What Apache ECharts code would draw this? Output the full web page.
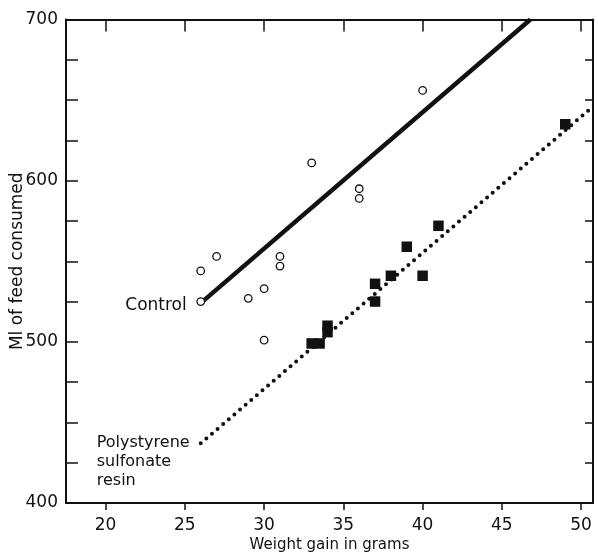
<!DOCTYPE html>
<html>
<head>
<meta charset="utf-8">
<script src="https://cdn.jsdelivr.net/npm/echarts@6/dist/echarts.min.js"></script>
<style>
html,body{margin:0;padding:0;background:#fff;}
#chart{width:598px;height:553px;}
</style>
</head>
<body>
<div id="chart"></div>
<script>
// Control group (open circles): [weight gain g, ml feed]
var controlPoints = [
  [26, 544], [27, 553], [26, 525], [29, 527], [30, 533], [30, 501],
  [31, 553], [31, 547], [33, 611], [36, 595], [36, 589], [40, 656]
];
// Polystyrene sulfonate resin group (filled squares)
var resinPoints = [
  [33, 499], [33.5, 499], [34, 510], [34, 506], [37, 536], [37, 525],
  [38, 541], [40, 541], [39, 559], [41, 572], [49, 635]
];
// Fitted lines
var controlLine = [[26, 524], [46.8, 700]];
var resinLine = [[26, 437], [50.75, 646]];

var xTicks = [20, 25, 30, 35, 40, 45, 50];
var yLabelValues = [400, 500, 600, 700];
var xTitle = 'Weight gain in grams';
var yTitle = 'Ml of feed consumed';
var controlLabel = 'Control';
var resinLabel = 'Polystyrene\nsulfonate\nresin';

var FONT = 'DejaVu Sans';
var INK = '#111';

var chart = echarts.init(document.getElementById('chart'), null, {renderer: 'canvas'});

var axisLine = {show: true, onZero: false, lineStyle: {color: INK, width: 2}};

var option = {
  backgroundColor: '#fff',
  animation: false,
  grid: {left: 66, top: 19.5, width: 527, height: 483.5, containLabel: false, outerBoundsMode: 'none'},
  xAxis: [
    {
      type: 'value', min: 17.5, max: 50.75, position: 'bottom',
      axisLine: axisLine,
      axisTick: {show: true, inside: false, length: 7, customValues: xTicks, lineStyle: {color: INK, width: 1.5}},
      axisLabel: {show: true, customValues: xTicks, fontFamily: FONT, fontSize: 17, color: INK, margin: 14},
      splitLine: {show: false},
      name: xTitle, nameLocation: 'middle', nameGap: 35, nameMoveOverlap: false,
      nameTextStyle: {fontFamily: FONT, fontSize: 15, color: INK}
    },
    {
      type: 'value', min: 17.5, max: 50.75, position: 'top',
      axisLine: axisLine,
      axisTick: {show: true, inside: true, length: 12, customValues: xTicks, lineStyle: {color: INK, width: 1.5}},
      axisLabel: {show: false},
      splitLine: {show: false}
    }
  ],
  yAxis: [
    {
      type: 'value', min: 400, max: 700, interval: 25, position: 'left',
      axisLine: axisLine,
      axisTick: {show: true, inside: true, length: 12, lineStyle: {color: INK, width: 1.5}},
      axisLabel: {
        show: true, fontFamily: FONT, fontSize: 17, color: INK, margin: 8,
        formatter: function (v) { return yLabelValues.indexOf(v) >= 0 ? String(v) : ''; }
      },
      splitLine: {show: false},
      name: yTitle, nameLocation: 'middle', nameGap: 40, nameRotate: 90, nameMoveOverlap: false,
      nameTextStyle: {fontFamily: FONT, fontSize: 17, color: INK}
    },
    {
      type: 'value', min: 400, max: 700, interval: 25, position: 'right',
      axisLine: axisLine,
      axisTick: {show: true, inside: true, length: 8, lineStyle: {color: INK, width: 1.5}},
      axisLabel: {show: false},
      splitLine: {show: false}
    }
  ],
  series: [
    {
      name: 'controlLine', type: 'line', data: controlLine, showSymbol: false, symbol: 'none',
      lineStyle: {color: INK, width: 4.5}, z: 2, clip: true
    },
    {
      name: 'resinLine', type: 'line', data: resinLine, showSymbol: false, symbol: 'none',
      lineStyle: {color: INK, width: 4, type: [0, 7.4], cap: 'round'}, z: 2, clip: true
    },
    {
      name: 'Control', type: 'scatter', data: controlPoints, symbol: 'circle', symbolSize: 7.5,
      itemStyle: {color: '#fff', borderColor: INK, borderWidth: 1.3, opacity: 1}, z: 3
    },
    {
      name: 'Resin', type: 'scatter', data: resinPoints, symbol: 'rect', symbolSize: 10.5,
      itemStyle: {color: INK, opacity: 1}, z: 3
    }
  ]
};
chart.setOption(option);

var pc = chart.convertToPixel({gridIndex: 0}, controlLine[0]);
var pr = chart.convertToPixel({gridIndex: 0}, resinLine[0]);
chart.setOption({
  graphic: [
    {
      type: 'text', x: pc[0] - 14, y: pc[1] + 2,
      style: {text: controlLabel, fontFamily: FONT, fontSize: 17, fill: INK, align: 'right', verticalAlign: 'middle'}
    },
    {
      type: 'text', x: pr[0] - 104, y: pr[1] - 10,
      style: {text: resinLabel, fontFamily: FONT, fontSize: 16, lineHeight: 19, fill: INK, align: 'left', verticalAlign: 'top'}
    }
  ]
});
</script>
</body>
</html>
